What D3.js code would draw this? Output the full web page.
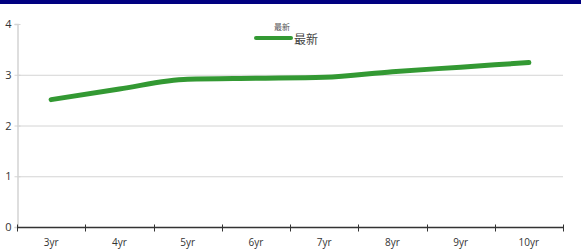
<!DOCTYPE html>
<html>
<head>
<meta charset="utf-8">
<script src="https://cdn.jsdelivr.net/npm/d3@7"></script>
<style>
  body { margin: 0; background: #fff; }
  svg { display: block; font-family: "Open Sans", sans-serif; }
</style>
</head>
<body>
<div id="chart"></div>
<script>
const categories = ["3yr", "4yr", "5yr", "6yr", "7yr", "8yr", "9yr", "10yr"];
const latest = [2.51, 2.72, 2.91, 2.93, 2.95, 3.06, 3.15, 3.24];
const yTicks = [0, 1, 2, 3, 4];
const gridTicks = [1, 2, 3];
const seriesName = "最新";

const width = 581, height = 250;
const margin = { left: 17, right: 18, top: 24, bottom: 23 };

const svg = d3.select("#chart").append("svg")
  .attr("width", width).attr("height", height);

// top bar
svg.append("rect").attr("x", 0).attr("y", 0)
  .attr("width", width).attr("height", 4).attr("fill", "#000080");

const x = d3.scaleBand().domain(categories)
  .range([margin.left, width - margin.right]);
const y = d3.scaleLinear().domain([0, 4])
  .range([height - margin.bottom, margin.top]);

// grid lines
svg.append("g").selectAll("line")
  .data(gridTicks)
  .join("line")
  .attr("x1", margin.left).attr("x2", width - margin.right)
  .attr("y1", (d) => y(d) + 0.5).attr("y2", (d) => y(d) + 0.5)
  .attr("stroke", "#d4d4d4");

// y axis
const yAxis = svg.append("g")
  .attr("transform", `translate(${margin.left + 0.5},0)`)
  .call(d3.axisLeft(y).tickValues(yTicks).tickSize(3).tickFormat(d3.format("d")));
yAxis.select(".domain").attr("stroke", "#d4d4d4").attr("stroke-width", 1.5);
yAxis.selectAll(".tick line").attr("stroke", "#d4d4d4").attr("x2", 3).attr("x1", -3);
yAxis.selectAll(".tick text").attr("fill", "#333").attr("font-size", 11)
  .attr("x", -6).attr("font-family", "Open Sans, sans-serif");

// x axis
const xAxisG = svg.append("g")
  .attr("transform", `translate(0,${y(0) + 0.5})`);
xAxisG.append("line")
  .attr("x1", x.range()[0]).attr("x2", x.range()[1])
  .attr("stroke", "#333").attr("stroke-width", 1.5);
const tickPos = categories.map((d) => x(d)).concat([x.range()[1]]);
xAxisG.selectAll(".tk").data(tickPos).join("line")
  .attr("class", "tk")
  .attr("x1", (d) => Math.round(d) + 0.5).attr("x2", (d) => Math.round(d) + 0.5)
  .attr("y1", -3).attr("y2", 4)
  .attr("stroke", "#333");
xAxisG.selectAll("text").data(categories).join("text")
  .attr("x", (d) => x(d) + x.bandwidth() / 2)
  .attr("y", 18)
  .attr("text-anchor", "middle")
  .attr("font-size", 10)
  .attr("fill", "#333")
  .text((d) => d);

// line
const line = d3.line()
  .x((d, i) => x(categories[i]) + x.bandwidth() / 2)
  .y((d) => y(d))
  .curve(d3.curveMonotoneX);
svg.append("path").datum(latest)
  .attr("d", line)
  .attr("fill", "none")
  .attr("stroke", "#339933")
  .attr("stroke-width", 5)
  .attr("stroke-linecap", "round")
  .attr("stroke-linejoin", "round");

// legend
const lg = svg.append("g");
lg.append("text").attr("x", 282).attr("y", 30)
  .attr("text-anchor", "middle").attr("font-size", 8).attr("fill", "#555")
  .attr("font-family", "Noto Sans CJK SC, sans-serif")
  .text(seriesName);
lg.append("line").attr("x1", 256).attr("x2", 291)
  .attr("y1", 38).attr("y2", 38)
  .attr("stroke", "#339933").attr("stroke-width", 4)
  .attr("stroke-linecap", "round");
lg.append("text").attr("x", 294).attr("y", 44)
  .attr("font-size", 12).attr("fill", "#444")
  .attr("font-family", "Noto Sans CJK SC, sans-serif")
  .text(seriesName);
</script>
</body>
</html>
